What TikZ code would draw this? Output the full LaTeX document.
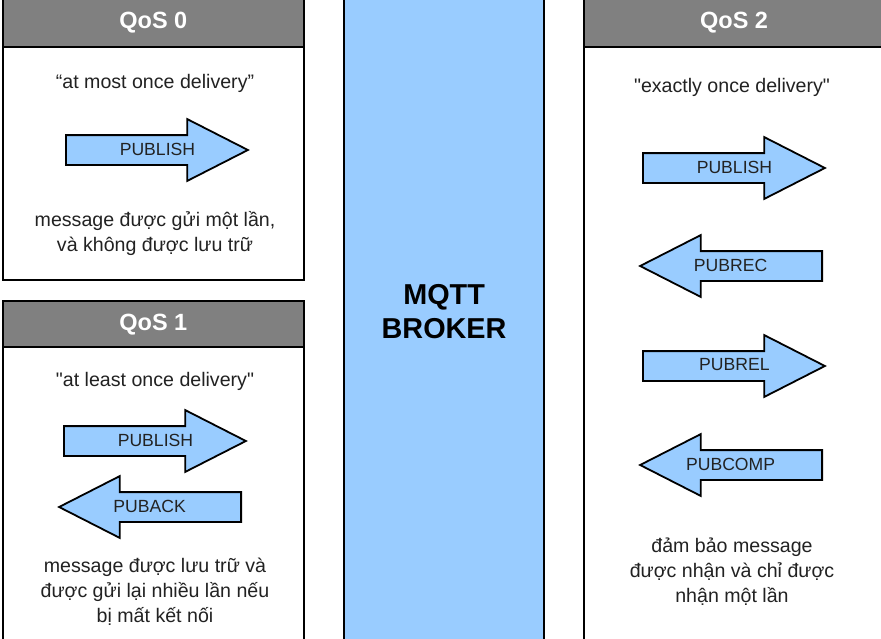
\documentclass[tikz,border=0pt]{standalone}
\usepackage{fontspec}
\setmainfont{Liberation Sans}
\usetikzlibrary{shapes.arrows,positioning,calc}
\definecolor{brokerblue}{HTML}{99CCFF}
\definecolor{headgray}{HTML}{808080}
\definecolor{ink}{HTML}{222222}

\begin{document}
\begin{tikzpicture}[x=1pt, y=-1pt,
  panel/.style={rectangle, draw=black, fill=white, line width=2.2pt, anchor=north west, inner sep=0pt, minimum width=301.5pt},
  head/.style={rectangle, draw=black, fill=headgray, line width=2.2pt, anchor=north, inner sep=0pt, minimum width=301.5pt, text=white, font=\fontsize{23.5}{28}\selectfont\bfseries},
  note/.style={align=center, text=ink, font=\fontsize{19.6}{25}\selectfont},
  msg/.style={single arrow, draw=black, fill=brokerblue, line width=1.8pt, minimum height=182pt, single arrow head extend=16pt, single arrow tip angle=54, text height=11pt, text depth=3pt, inner ysep=7pt, inner xsep=0pt, anchor=tail},
  back/.style={msg, shape border rotate=180},
  lbl/.style={text=ink, font=\fontsize{17.6}{21}\selectfont, yshift=1pt}
]
\useasboundingbox (0,0) rectangle (881,638);
\clip (0,0) rectangle (881,638);

% QoS 0
\node[panel, minimum height=281pt] (q0) at (1.5,-2) {};
\node[head, minimum height=48pt] (q0h) at (q0.north) {QoS 0};
\node[note] (q0quote) at (155,83) {“at most once delivery”};
\node[msg] (q0pub) at (65,150) {};
\node[lbl] at ($(q0pub.tail)!.5!(q0pub.tip)$) {PUBLISH};
\node[note] (q0desc) at (155,233) {message được gửi một lần,\\và không được lưu trữ};

% QoS 1
\node[panel, minimum height=400pt] (q1) at (1.5,300) {};
\node[head, minimum height=46pt] (q1h) at (q1.north) {QoS 1};
\node[note] (q1quote) at (155,381) {\textquotedbl at least once delivery\textquotedbl};
\node[msg] (q1pub) at (63,441) {};
\node[lbl] at ($(q1pub.tail)!.5!(q1pub.tip)$) {PUBLISH};
\node[back] (q1ack) at (242,507) {};
\node[lbl] at ($(q1ack.tail)!.5!(q1ack.tip)$) {PUBACK};
\node[note] (q1desc) at (155,592) {message được lưu trữ và\\được gửi lại nhiều lần nếu\\bị mất kết nối};

% broker
\node[rectangle, draw=black, fill=brokerblue, line width=2.2pt, anchor=north west, minimum width=200pt, minimum height=680pt, align=center, font=\fontsize{28.8}{34}\selectfont\bfseries] (broker) at (343,-30) {MQTT\\BROKER};

% QoS 2
\node[panel, minimum width=300pt, minimum height=700pt] (q2) at (583,-2) {};
\node[head, minimum width=300pt, minimum height=48pt] (q2h) at (q2.north) {QoS 2};
\node[note] (q2quote) at (732,87) {\textquotedbl exactly once delivery\textquotedbl};
\node[msg] (q2pub) at (642,168) {};
\node[lbl] at ($(q2pub.tail)!.5!(q2pub.tip)$) {PUBLISH};
\node[back] (q2rec) at (823,266) {};
\node[lbl] at ($(q2rec.tail)!.5!(q2rec.tip)$) {PUBREC};
\node[msg] (q2rel) at (642,366) {};
\node[lbl] at ($(q2rel.tail)!.5!(q2rel.tip)$) {PUBREL};
\node[back] (q2comp) at (823,465) {};
\node[lbl] at ($(q2comp.tail)!.5!(q2comp.tip)$) {PUBCOMP};
\node[note] (q2desc) at (732,572) {đảm bảo message\\được nhận và chỉ được\\nhận một lần};
\end{tikzpicture}
\end{document}
